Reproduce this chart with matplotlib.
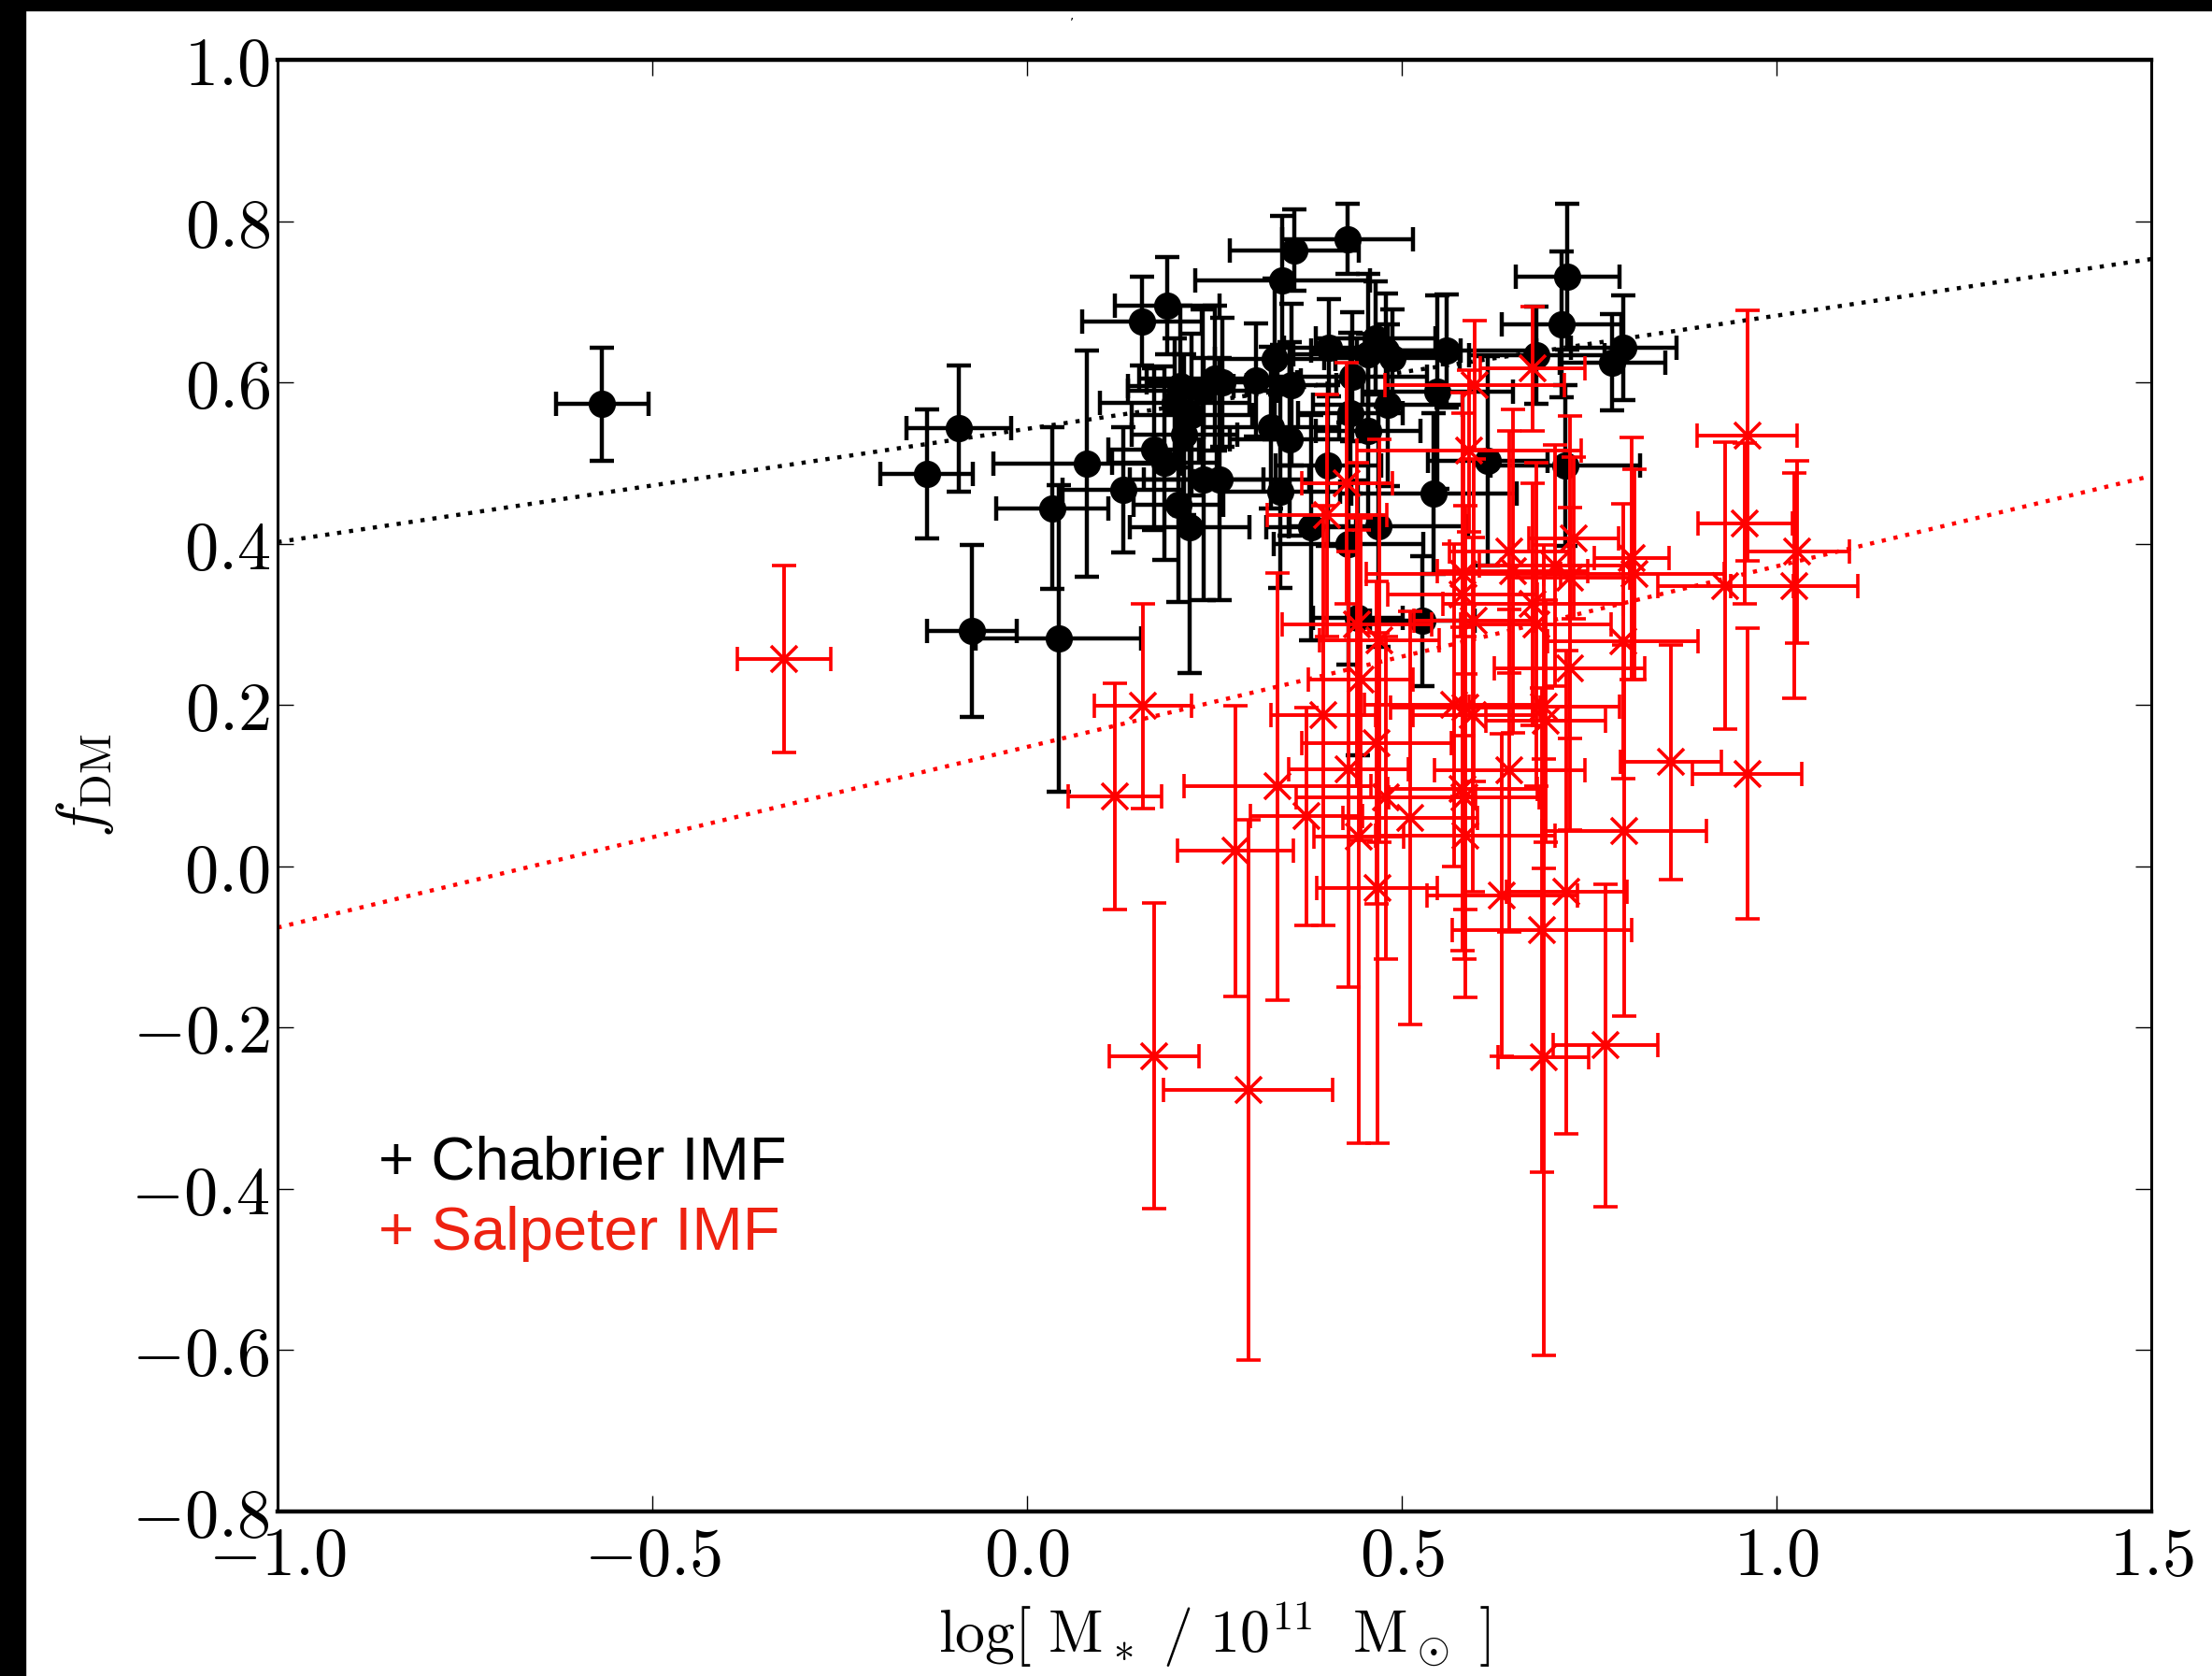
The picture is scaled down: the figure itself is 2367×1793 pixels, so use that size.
import matplotlib
matplotlib.use("Agg")
import matplotlib.pyplot as plt
from matplotlib.patches import Rectangle
from matplotlib.ticker import FuncFormatter
import numpy as np

# ---------------- data ----------------
# Chabrier IMF: log M*, f_DM, x-error, y-error
chab_x = [-0.567, -0.134, -0.091, -0.074, 0.042, 0.080, 0.034, 0.128, 0.153, 0.187,
          0.169, 0.183, 0.202, 0.217, 0.236, 0.257, 0.197, 0.205, 0.220, 0.235,
          0.250, 0.210, 0.305, 0.331, 0.353, 0.326, 0.350, 0.338, 0.379, 0.402,
          0.341, 0.357, 0.428, 0.403, 0.434, 0.431, 0.455, 0.481, 0.465, 0.479,
          0.487, 0.455, 0.560, 0.548, 0.543, 0.615, 0.429, 0.469, 0.441, 0.527,
          0.680, 0.713, 0.721, 0.718, 0.781, 0.796, 0.260]
chab_y = [0.573, 0.487, 0.543, 0.292, 0.283, 0.499, 0.444, 0.467, 0.676, 0.695,
          0.517, 0.500, 0.448, 0.420, 0.480, 0.480, 0.575, 0.595, 0.560, 0.590,
          0.605, 0.535, 0.603, 0.629, 0.597, 0.544, 0.530, 0.465, 0.420, 0.497,
          0.726, 0.764, 0.778, 0.643, 0.607, 0.562, 0.540, 0.572, 0.655, 0.640,
          0.630, 0.635, 0.639, 0.588, 0.462, 0.503, 0.400, 0.422, 0.308, 0.304,
          0.634, 0.672, 0.731, 0.497, 0.625, 0.643, 0.600]
chab_xerr = [0.062, 0.062, 0.070, 0.060, 0.110, 0.125, 0.075, 0.080, 0.080, 0.070,
             0.060, 0.070, 0.060, 0.080, 0.080, 0.120, 0.100, 0.070, 0.080, 0.100,
             0.100, 0.070, 0.060, 0.080, 0.060, 0.090, 0.080, 0.080, 0.060, 0.070,
             0.117, 0.086, 0.087, 0.060, 0.100, 0.070, 0.070, 0.100, 0.080, 0.100,
             0.090, 0.100, 0.120, 0.100, 0.110, 0.080, 0.100, 0.120, 0.060, 0.070,
             0.090, 0.080, 0.069, 0.100, 0.070, 0.070, 0.100]
chab_yerr = [0.070, 0.080, 0.078, 0.107, 0.190, 0.140, 0.100, 0.078, 0.055, 0.060,
             0.100, 0.120, 0.120, 0.180, 0.150, 0.150, 0.080, 0.100, 0.100, 0.100,
             0.090, 0.100, 0.070, 0.100, 0.100, 0.100, 0.120, 0.120, 0.140, 0.100,
             0.080, 0.050, 0.044, 0.060, 0.080, 0.100, 0.120, 0.100, 0.070, 0.070,
             0.060, 0.100, 0.070, 0.120, 0.100, 0.130, 0.150, 0.150, 0.170, 0.080,
             0.060, 0.090, 0.090, 0.100, 0.060, 0.065, 0.080]

# Salpeter IMF
salp_x = [-0.324, 0.155, 0.117, 0.170, 0.295, 0.278, 0.334, 0.373, 0.395, 0.429,
          0.443, 0.467, 0.479, 0.511, 0.583, 0.585, 0.595, 0.644, 0.634, 0.720,
          0.687, 0.689, 0.772, 0.797, 0.859, 0.961, 0.961, 0.958, 1.027, 1.024,
          0.932, 0.810, 0.795, 0.724, 0.690, 0.692, 0.445, 0.400, 0.427, 0.675,
          0.597, 0.590, 0.643, 0.704, 0.729, 0.807, 0.582, 0.675, 0.581, 0.648,
          0.679, 0.570, 0.724, 0.581, 0.585, 0.466, 0.596, 0.440, 0.470]
salp_y = [0.257, 0.199, 0.087, -0.235, -0.277, 0.019, 0.099, 0.062, 0.187, 0.120,
          0.037, -0.027, 0.085, 0.060, 0.085, 0.038, 0.188, 0.119, -0.036, -0.032,
          -0.079, -0.237, -0.222, 0.044, 0.129, 0.115, 0.534, 0.425, 0.390, 0.348,
          0.348, 0.362, 0.279, 0.245, 0.198, 0.180, 0.232, 0.435, 0.475, 0.617,
          0.597, 0.515, 0.390, 0.373, 0.407, 0.382, 0.362, 0.325, 0.337, 0.366,
          0.300, 0.200, 0.358, 0.096, 0.197, 0.153, 0.305, 0.300, 0.280]
salp_xerr = [0.062, 0.065, 0.062, 0.060, 0.113, 0.077, 0.125, 0.075, 0.070, 0.080,
             0.060, 0.080, 0.120, 0.090, 0.100, 0.120, 0.080, 0.100, 0.100, 0.080,
             0.120, 0.060, 0.070, 0.110, 0.067, 0.073, 0.067, 0.063, 0.070, 0.085,
             0.090, 0.120, 0.100, 0.100, 0.100, 0.080, 0.070, 0.080, 0.060, 0.070,
             0.120, 0.150, 0.080, 0.100, 0.060, 0.050, 0.130, 0.120, 0.100, 0.100,
             0.100, 0.120, 0.080, 0.100, 0.100, 0.100, 0.080, 0.100, 0.080]
salp_yerr = [0.116, 0.127, 0.140, 0.190, 0.335, 0.180, 0.265, 0.135, 0.260, 0.270,
             0.380, 0.316, 0.200, 0.256, 0.200, 0.200, 0.220, 0.200, 0.200, 0.300,
             0.300, 0.370, 0.200, 0.230, 0.146, 0.180, 0.155, 0.100, 0.113, 0.140,
             0.178, 0.130, 0.170, 0.200, 0.200, 0.150, 0.200, 0.150, 0.150, 0.077,
             0.080, 0.100, 0.150, 0.150, 0.100, 0.150, 0.200, 0.150, 0.250, 0.200,
             0.200, 0.200, 0.200, 0.200, 0.250, 0.200, 0.200, 0.200, 0.250]

# best-fit relations (evaluated at x-axis limits)
fit_x = [-1.0, 1.5]
fit_chab = [0.402, 0.753]
fit_salp = [-0.076, 0.484]

xticks = [-1.0, -0.5, 0.0, 0.5, 1.0, 1.5]
yticks = [-0.8, -0.6, -0.4, -0.2, 0.0, 0.2, 0.4, 0.6, 0.8, 1.0]

# ---------------- figure ----------------
plt.rcParams['mathtext.fontset'] = 'cm'
W, H, DPI = 2367, 1793, 100
fig = plt.figure(figsize=(W / DPI, H / DPI), dpi=DPI)
ax = fig.add_axes([297 / W, 1 - 1617 / H, 2005 / W, 1553 / H])

ax.plot(fit_x, fit_chab, linestyle=(0, (1, 1.9)), color='black', lw=3.2, zorder=1)
ax.plot(fit_x, fit_salp, linestyle=(0, (1, 1.9)), color='red', lw=3.2, zorder=1)

ax.errorbar(chab_x, chab_y, xerr=chab_xerr, yerr=chab_yerr, fmt='o', color='black',
            ms=20, elinewidth=3.2, capsize=9.5, capthick=3.2, zorder=2)
ax.errorbar(salp_x, salp_y, xerr=salp_xerr, yerr=salp_yerr, fmt='x', color='red',
            ms=20, mew=2.6, elinewidth=2.8, capsize=9.5, capthick=2.8, zorder=3)

ax.set_xlim(-1.0, 1.5)
ax.set_ylim(-0.8, 1.0)
ax.set_xticks(xticks)
ax.set_yticks(yticks)
fmt = FuncFormatter(lambda v, p: r'$%.1f$' % v)
ax.xaxis.set_major_formatter(fmt)
ax.yaxis.set_major_formatter(fmt)
ax.tick_params(direction='in', top=True, right=True, length=12, width=1.0,
               labelsize=52, pad=6)
ax.tick_params(axis='x', pad=10)
for s in ax.spines.values():
    s.set_linewidth(2.2)
ax.spines['top'].set_linewidth(3.2)
ax.spines['bottom'].set_linewidth(3.2)

ax.set_xlabel(r'$\log[\ \mathrm{M}_*\ /\ 10^{11}\ \ \mathrm{M}_\odot\ ]$', fontsize=46, labelpad=8)
ax.set_ylabel(r'$f_{\rm DM}$', fontsize=48, labelpad=12)

ax.text(0.054, 0.2286, '+ Chabrier IMF', transform=ax.transAxes, fontsize=47,
        family='Liberation Sans', color='black', va='baseline', ha='left')
ax.text(0.054, 0.180, '+ Salpeter IMF', transform=ax.transAxes, fontsize=47,
        family='Liberation Sans', color='#EE2211', va='baseline', ha='left')

# black frame strips at left and top of the image
fig.patches.append(Rectangle((0, 0), 27 / W, 1, transform=fig.transFigure,
                             color='black', zorder=10))
fig.patches.append(Rectangle((0, 1 - 11 / H), 1, 11 / H, transform=fig.transFigure,
                             color='black', zorder=10))
fig.text(1147 / W, 1 - 20 / H, ',', fontsize=10, color='black', ha='center')

fig.savefig('out.png', dpi=DPI)
